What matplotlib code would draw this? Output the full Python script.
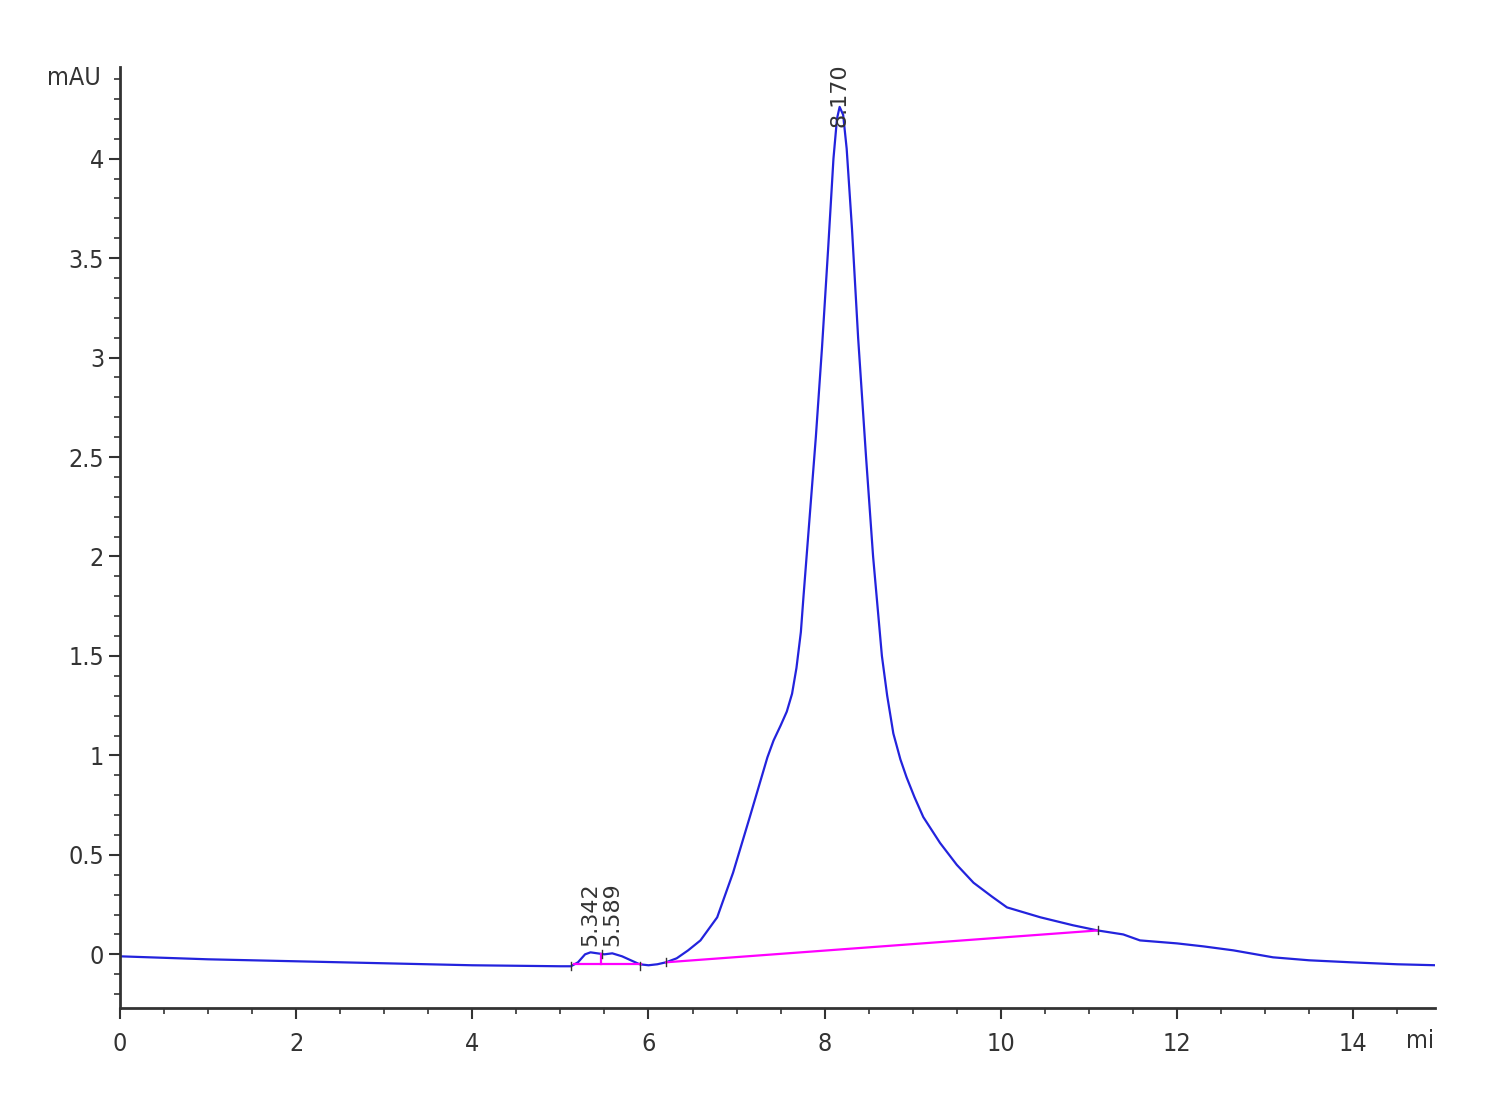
import numpy as np
import matplotlib
matplotlib.use("Agg")
import matplotlib.pyplot as plt
from matplotlib.ticker import MultipleLocator, FormatStrFormatter
from matplotlib.transforms import Bbox, TransformedBbox

# chromatogram trace (min, mAU)
time = [0, 1, 2, 3, 4, 5.0, 5.12, 5.2, 5.28, 5.342, 5.42, 5.5, 5.589, 5.7,
        5.8, 5.9, 6.0, 6.1, 6.2, 6.32, 6.45, 6.59, 6.78, 6.96, 7.15, 7.35,
        7.42, 7.5, 7.57, 7.63, 7.68, 7.73, 7.76, 7.83, 7.90, 7.97, 8.04,
        8.10, 8.14, 8.17, 8.21, 8.25, 8.31, 8.38, 8.47, 8.55, 8.65, 8.71,
        8.78, 8.86, 8.93, 9.02, 9.12, 9.31, 9.5, 9.69, 9.9, 10.07, 10.45,
        10.82, 11.1, 11.39, 11.58, 12.0, 12.3, 12.64, 13.09, 13.5, 13.97,
        14.5, 14.95]
signal = [-0.01, -0.025, -0.035, -0.045, -0.055, -0.06, -0.06, -0.04, 0.0,
          0.01, 0.005, 0.0, 0.005, -0.01, -0.03, -0.05, -0.055, -0.05, -0.04,
          -0.02, 0.02, 0.07, 0.186, 0.41, 0.69, 0.99, 1.075, 1.15, 1.22,
          1.31, 1.44, 1.62, 1.8, 2.2, 2.6, 3.05, 3.55, 4.0, 4.2, 4.26, 4.22,
          4.05, 3.65, 3.1, 2.5, 2.0, 1.5, 1.3, 1.11, 0.98, 0.89, 0.79, 0.69,
          0.56, 0.45, 0.36, 0.29, 0.236, 0.186, 0.146, 0.12, 0.1, 0.07,
          0.055, 0.04, 0.02, -0.015, -0.03, -0.04, -0.05, -0.055]

# integration baselines (start, end) pairs
base_t = [[5.15, 5.45], [5.47, 5.92], [6.2, 11.1]]
base_y = [[-0.05, -0.05], [-0.05, -0.05], [-0.04, 0.12]]
drop_t = 5.46
drop_y = [-0.05, 0.0]

# peak labels
peak_rt = [5.342, 5.589, 8.170]
peak_lbl_y = [0.04, 0.04, 4.16]

# integration event marks
event_t = [5.12, 5.47, 5.9, 6.2, 11.1]
event_y = [-0.06, 0.0, -0.06, -0.04, 0.12]

plt.rcParams['font.family'] = ['DejaVu Sans']
plt.rcParams['font.stretch'] = 'condensed'

fig = plt.figure(figsize=(15, 11), dpi=100)
ax = fig.add_axes([0.08, 0.0836, 0.8767, 0.8554])

ax.plot(time, signal, color='#2323dd', lw=1.6)
for bt, by in zip(base_t, base_y):
    ax.plot(bt, by, color='#ff00ff', lw=1.6)
ax.plot([drop_t, drop_t], drop_y, color='#ff00ff', lw=1.6)
for et, ey in zip(event_t, event_y):
    ax.plot([et, et], [ey - 0.02, ey + 0.02], color='#333333', lw=1.0)

for rt, ly in zip(peak_rt, peak_lbl_y):
    ax.text(rt, ly, f'{rt:.3f}', rotation=90, ha='center', va='bottom',
            fontsize=16, fontstretch='normal', color='#333333', clip_on=False)

ax.set_xlim(0, 14.93)
ax.set_ylim(-0.27, 4.46)
ax.xaxis.set_major_locator(MultipleLocator(2))
ax.xaxis.set_minor_locator(MultipleLocator(0.5))
ax.yaxis.set_major_locator(MultipleLocator(0.5))
ax.yaxis.set_minor_locator(MultipleLocator(0.1))
ax.yaxis.set_major_formatter(FormatStrFormatter('%g'))

for s in ['top', 'right']:
    ax.spines[s].set_visible(False)
for s in ['left', 'bottom']:
    ax.spines[s].set_linewidth(2)
    ax.spines[s].set_color('#333333')
ax.tick_params(which='major', length=8, width=1.5, labelsize=18, colors='#333333')
ax.tick_params(which='minor', length=4, width=1.2, colors='#333333')
ax.tick_params(axis='x', pad=9)

fig.text(0.067, 0.929, 'mAU', fontsize=18, color='#333333', ha='right', va='center')
t = fig.text(0.9375, 0.054, 'min', fontsize=18, color='#333333', ha='left', va='center')
t.set_clip_box(TransformedBbox(Bbox([[0.9, 0.0], [0.957, 0.2]]), fig.transFigure))

fig.savefig('out.png', dpi=100, facecolor='white')
